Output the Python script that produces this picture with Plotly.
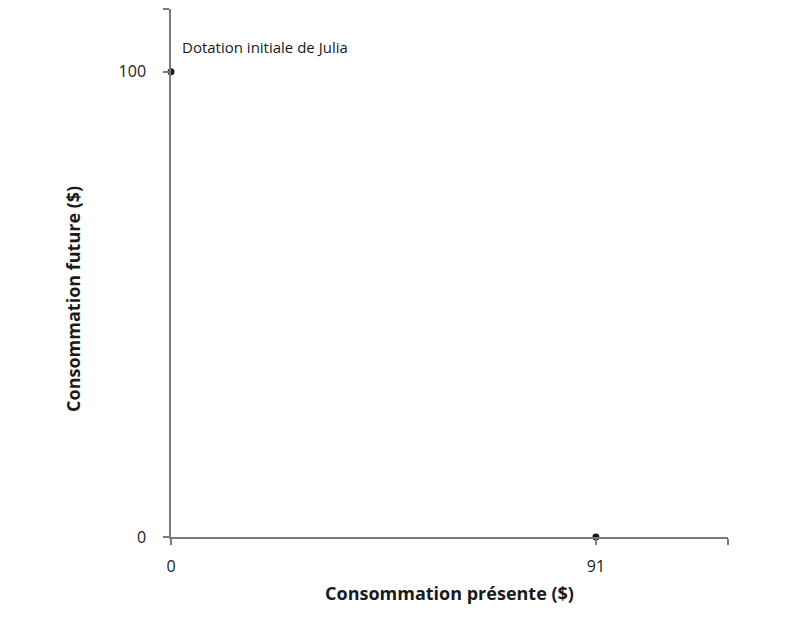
import plotly.graph_objects as go

x_points = [0, 91]
y_points = [100, 0]
x_ticks = [0, 91]
y_ticks = [0, 100]
x_max = 119.3
y_max = 113.5
label_text = "Dotation initiale de Julia"
x_title = "Consommation présente ($)"
y_title = "Consommation future ($)"

FONT = "Open Sans, Lato, sans-serif"
AX = "#7a7a7a"

fig = go.Figure()
fig.add_trace(go.Scatter(x=x_points, y=y_points, mode="markers",
                         marker=dict(color="#1a1a1a", size=7), cliponaxis=False,
                         hoverinfo="skip", showlegend=False))

fig.add_annotation(x=0, y=100, xref="x", yref="y", text=label_text, showarrow=False,
                   xanchor="left", yanchor="bottom", xshift=9, yshift=13,
                   font=dict(family=FONT, size=15, color="#1a1a1a"))

fig.add_annotation(x=-0.175, y=0.45, xref="paper", yref="paper", text="<b>" + y_title + "</b>",
                   showarrow=False, textangle=-90, xanchor="center", yanchor="middle",
                   font=dict(family=FONT, size=18, color="#1a1a1a"))

fig.update_layout(
    width=810, height=618,
    margin=dict(l=171, r=82, t=9, b=81, autoexpand=False),
    plot_bgcolor="white", paper_bgcolor="white",
    xaxis=dict(range=[0, x_max], tickvals=x_ticks + [x_max], ticktext=[str(v) for v in x_ticks] + [""],
               showgrid=False, zeroline=False, showline=True, linecolor=AX, linewidth=1.5,
               ticks="outside", ticklen=6, tickcolor=AX, tickwidth=1.5, automargin=False,
               ticklabelstandoff=8,
               tickfont=dict(family=FONT, size=16, color="#1a1a1a"),
               title=dict(text="<b>" + x_title + "</b>", font=dict(family=FONT, size=18, color="#1a1a1a"),
                          standoff=11)),
    yaxis=dict(range=[0, y_max], tickvals=y_ticks + [y_max], ticktext=[str(v) for v in y_ticks] + [""],
               showgrid=False, zeroline=False, showline=True, linecolor=AX, linewidth=1.5,
               ticks="outside", ticklen=6, tickcolor=AX, tickwidth=1.5, automargin=False,
               ticklabelstandoff=14,
               tickfont=dict(family=FONT, size=16, color="#1a1a1a")),
)

fig.write_html("out.html", config={"displayModeBar": False},
               post_script="document.body.style.margin='0';")
